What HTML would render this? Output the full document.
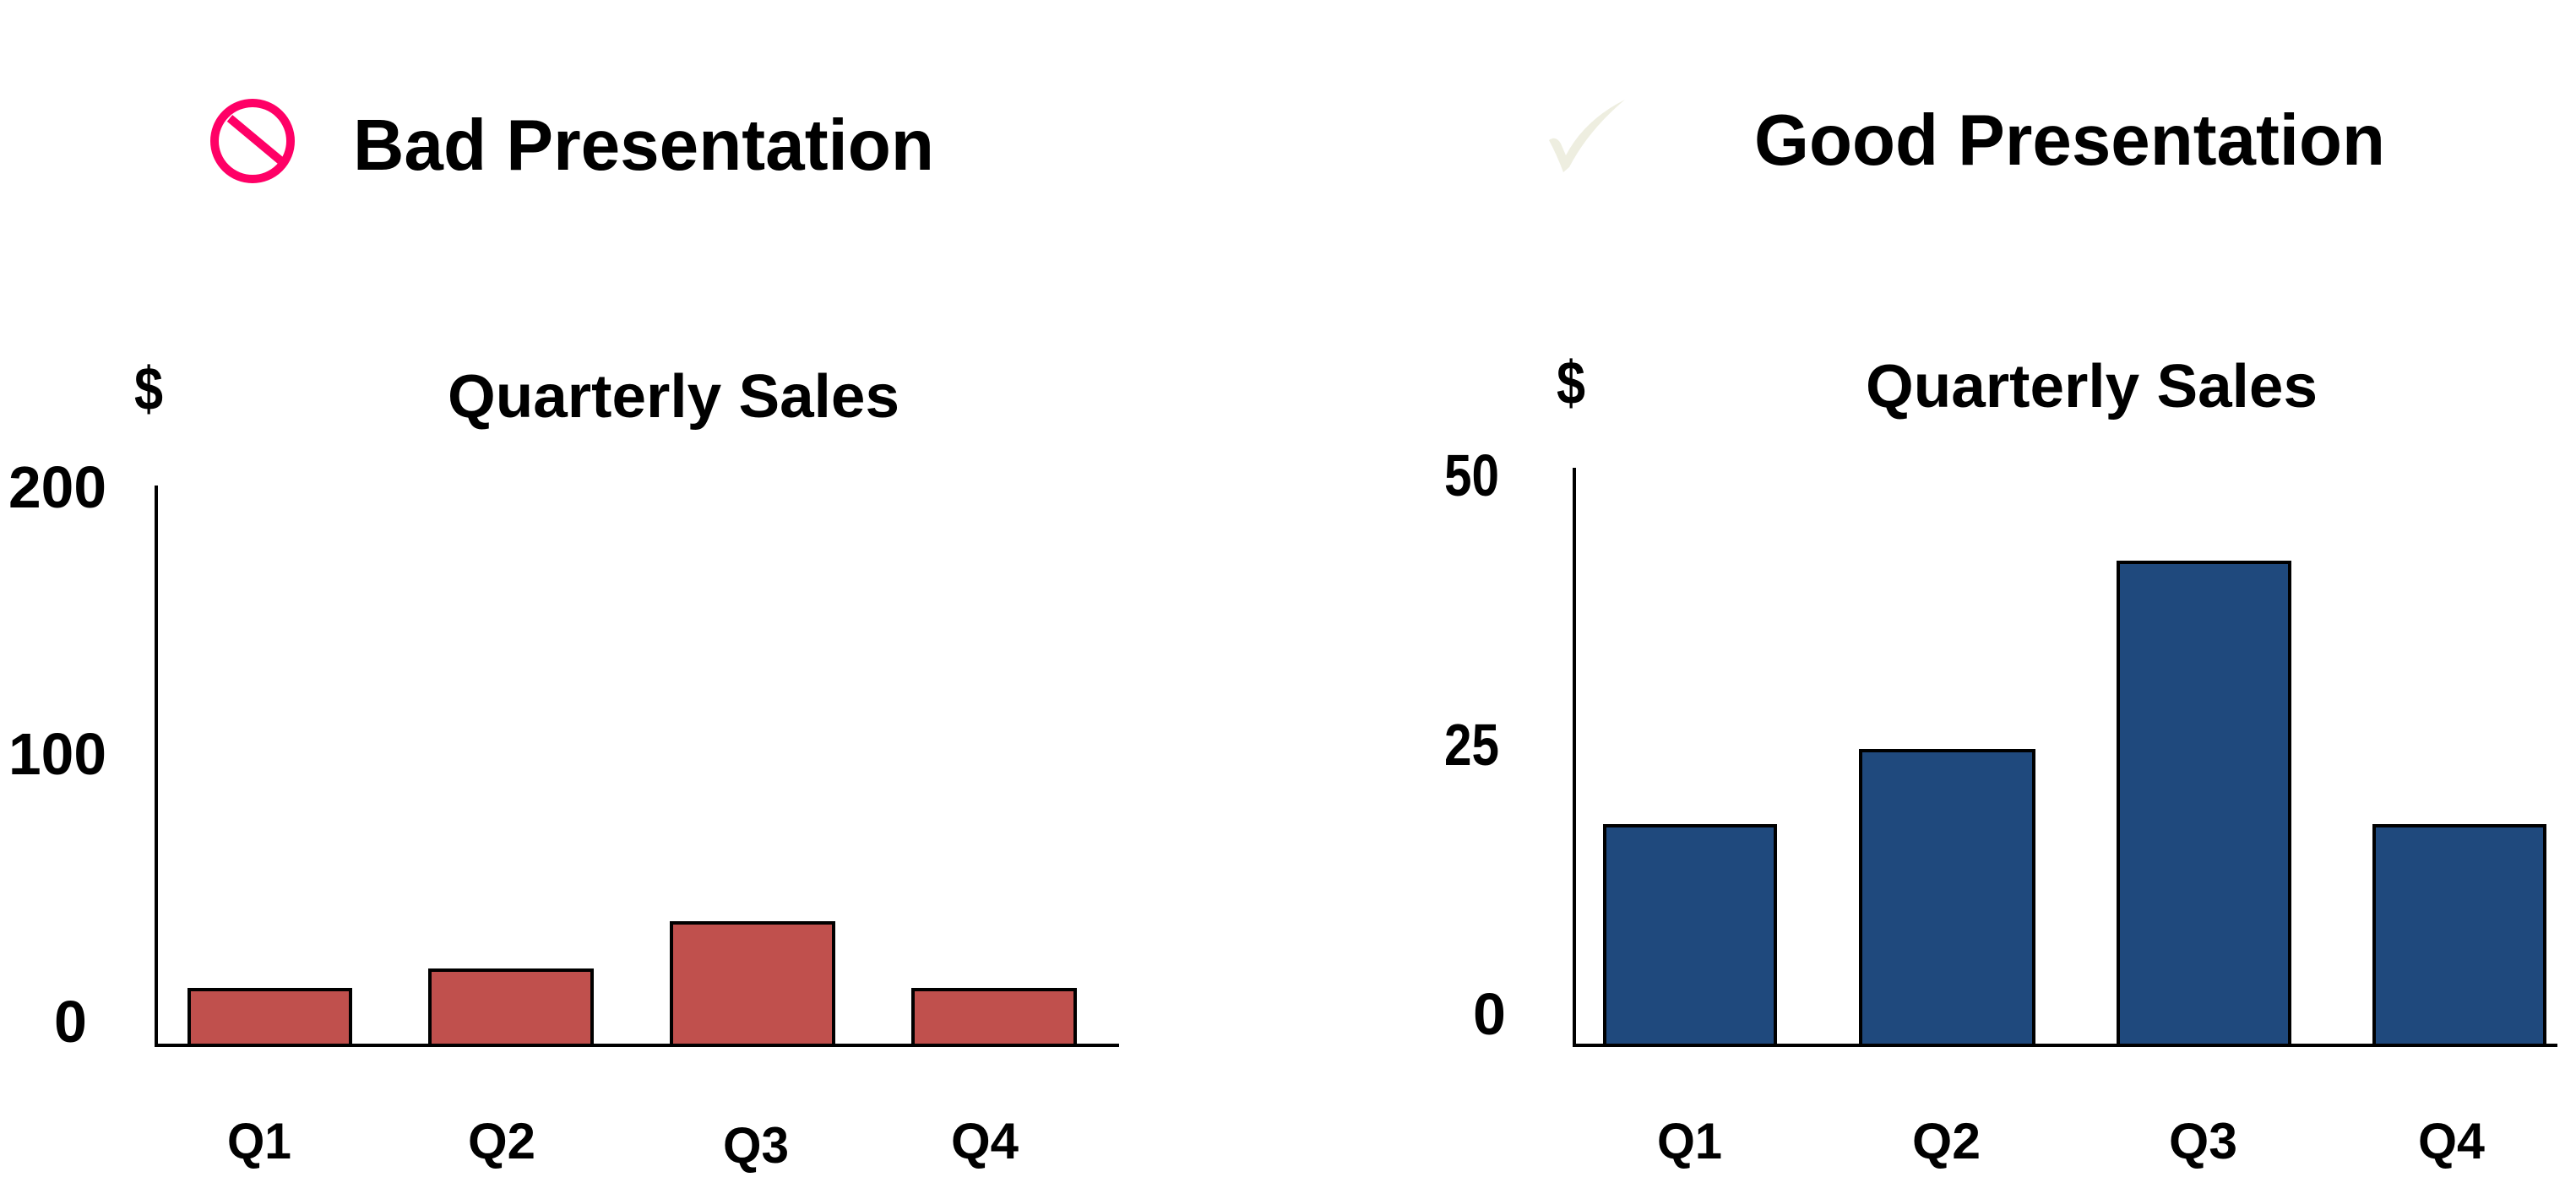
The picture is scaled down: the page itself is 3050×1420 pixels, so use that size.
<!DOCTYPE html>
<html><head><meta charset="utf-8"><style>
html,body{margin:0;padding:0;background:#fff;width:3050px;height:1420px;overflow:hidden}
svg{display:block}
text{font-family:"Liberation Sans",Arial,sans-serif;font-weight:bold;fill:#000}
</style></head><body>
<svg width="3050" height="1420" viewBox="0 0 3050 1420" xmlns="http://www.w3.org/2000/svg">
<!-- Left -->
<circle cx="299" cy="167" r="45" fill="none" stroke="#ff0066" stroke-width="10"/>
<line x1="272" y1="140" x2="332" y2="190" stroke="#ff0066" stroke-width="10"/>
<text x="418" y="201" font-size="85" textLength="688" lengthAdjust="spacingAndGlyphs">Bad Presentation</text>
<text x="159" y="485" font-size="72" textLength="34" lengthAdjust="spacingAndGlyphs">$</text>
<text x="530" y="494" font-size="72" textLength="535" lengthAdjust="spacingAndGlyphs">Quarterly Sales</text>
<text x="10" y="601" font-size="70" textLength="116" lengthAdjust="spacingAndGlyphs">200</text>
<text x="10" y="917" font-size="70" textLength="116" lengthAdjust="spacingAndGlyphs">100</text>
<text x="64" y="1234" font-size="70">0</text>
<g fill="#c0504d" stroke="#000" stroke-width="4">
<rect x="224" y="1172" width="191" height="66"/>
<rect x="509" y="1149" width="192" height="89"/>
<rect x="795" y="1093" width="192" height="145"/>
<rect x="1081" y="1172" width="192" height="66"/>
</g>
<line x1="185" y1="575" x2="185" y2="1240" stroke="#000" stroke-width="4"/>
<line x1="183" y1="1238" x2="1325" y2="1238" stroke="#000" stroke-width="4"/>
<text x="269" y="1372" font-size="60" textLength="76" lengthAdjust="spacingAndGlyphs">Q1</text>
<text x="554" y="1372" font-size="60" textLength="80" lengthAdjust="spacingAndGlyphs">Q2</text>
<text x="856" y="1377" font-size="60" textLength="78" lengthAdjust="spacingAndGlyphs">Q3</text>
<text x="1126" y="1372" font-size="60" textLength="80" lengthAdjust="spacingAndGlyphs">Q4</text>
<!-- Right -->
<path d="M1834 166 Q1842 160 1848 170 L1854 184 Q1876 142 1924 118 Q1881 154 1858 198 L1851 204 Q1844 185 1834 166 Z" fill="#eeeee0"/>
<text x="2077" y="195" font-size="85" textLength="747" lengthAdjust="spacingAndGlyphs">Good Presentation</text>
<text x="1843" y="478" font-size="72" textLength="34" lengthAdjust="spacingAndGlyphs">$</text>
<text x="2209" y="482" font-size="72" textLength="535" lengthAdjust="spacingAndGlyphs">Quarterly Sales</text>
<text x="1710" y="587" font-size="70" textLength="65" lengthAdjust="spacingAndGlyphs">50</text>
<text x="1710" y="906" font-size="70" textLength="65" lengthAdjust="spacingAndGlyphs">25</text>
<text x="1744" y="1225" font-size="70">0</text>
<g fill="#1f497d" stroke="#000" stroke-width="4">
<rect x="1900" y="978" width="202" height="260"/>
<rect x="2203" y="889" width="205" height="349"/>
<rect x="2508" y="666" width="203" height="572"/>
<rect x="2811" y="978" width="202" height="260"/>
</g>
<line x1="1864" y1="554" x2="1864" y2="1240" stroke="#000" stroke-width="4"/>
<line x1="1862" y1="1238" x2="3028" y2="1238" stroke="#000" stroke-width="4"/>
<text x="1962" y="1372" font-size="60" textLength="77" lengthAdjust="spacingAndGlyphs">Q1</text>
<text x="2264" y="1372" font-size="60" textLength="81" lengthAdjust="spacingAndGlyphs">Q2</text>
<text x="2568" y="1372" font-size="60" textLength="81" lengthAdjust="spacingAndGlyphs">Q3</text>
<text x="2863" y="1372" font-size="60" textLength="79" lengthAdjust="spacingAndGlyphs">Q4</text>
</svg>
</body></html>
